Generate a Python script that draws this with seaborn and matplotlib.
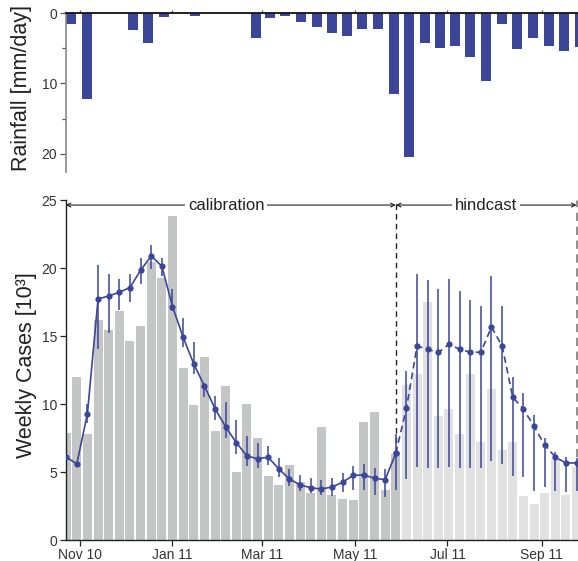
import numpy as np
import pandas as pd
import matplotlib
matplotlib.use("Agg")
import matplotlib.pyplot as plt
import matplotlib.dates as mdates
import seaborn as sns

# ---------------- data ----------------
week_start = "2010-10-23"
n_weeks = 49
calib_end = 31  # index of last calibration week

cases_obs = [7.85, 11.98, 7.78, 16.17, 15.44, 16.83, 14.63, 15.73, 20.44, 19.26,
             23.83, 12.64, 9.91, 13.45, 8.0, 11.31, 4.98, 9.99, 7.48, 4.69,
             4.02, 5.5, 4.25, 3.44, 8.32, 3.29, 2.99, 2.92, 8.66, 9.4,
             3.66, 6.31, 11.39, 12.2, 17.5, 9.1, 9.62, 7.78, 12.22, 7.2,
             11.09, 6.6, 7.2, 3.21, 2.63, 3.44, 5.99, 3.31, 5.37]

cases_model = [6.11, 5.6, 9.3, 17.74, 17.96, 18.23, 18.58, 19.85, 20.9, 20.15,
               17.18, 14.93, 12.96, 11.34, 9.67, 8.32, 7.17, 6.18, 5.99, 6.09,
               5.23, 4.49, 4.05, 3.85, 3.75, 3.9, 4.25, 4.76, 4.79, 4.54,
               4.44, 6.38, 9.69, 14.28, 14.04, 13.8, 14.4, 14.04, 13.82, 13.82,
               15.68, 14.28, 10.5, 9.64, 8.37, 6.99, 6.1, 5.67, 5.67]

model_lo = [np.nan, np.nan, 8.61, 14.09, 15.26, 16.96, 17.55, 18.85, 19.93, 19.44,
            16.83, 14.21, 12.25, 10.53, 8.83, 7.51, 6.36, 5.47, 5.28, 5.55,
            4.64, 4.0, 3.61, 3.46, 3.29, 3.24, 3.53, 3.68, 3.7, 3.31,
            3.17, 3.7, 4.52, 5.4, 5.33, 5.28, 5.4, 5.33, 5.33, 5.33,
            5.79, 5.6, 4.74, 4.6, 3.61, 3.9, 3.63, 3.5, 3.6]

model_hi = [np.nan, np.nan, 9.99, 20.22, 19.6, 19.2, 19.58, 20.74, 21.74, 20.74,
            18.48, 16.37, 14.55, 11.56, 10.6, 10.16, 8.81, 7.68, 7.12, 6.92,
            6.04, 5.25, 4.79, 4.56, 4.44, 4.54, 4.93, 5.47, 5.6, 5.28,
            5.23, 7.83, 12.42, 19.6, 19.1, 18.5, 19.19, 18.33, 17.64, 17.2,
            19.46, 17.2, 12.0, 10.85, 9.23, 7.5, 6.45, 6.1, 6.0]

# rainfall per dekad (10-day period), starting with 21-31 Oct 2010
rain_first_dekad = ("2010-10", 3)
rain_values = [1.5,                      # Oct 3
               12.2, 0.0, 0.0,           # Nov
               2.4, 4.2, 0.5,            # Dec
               0.0, 0.35, 0.0,           # Jan
               0.0, 0.0, 3.5,            # Feb
               0.65, 0.35, 1.2,          # Mar
               1.9, 2.8, 3.2,            # Apr
               2.2, 2.2, 11.5,           # May
               20.5, 4.2, 4.95,          # Jun
               4.65, 6.2, 9.6,           # Jul
               1.5, 5.05, 3.5,           # Aug
               4.65, 5.35, 4.8]          # Sep

month_ticks = ["2010-11-01", "2011-01-01", "2011-03-01",
               "2011-05-01", "2011-07-01", "2011-09-01"]
month_labels = ["Nov 10", "Jan 11", "Mar 11", "May 11", "Jul 11", "Sep 11"]

# ---------------- style ----------------
sns.set_style("ticks")
plt.rcParams["font.family"] = ["Liberation Sans", "DejaVu Sans"]
BLUE = "#3b4699"
DARK_GRAY = "#c4c5c5"
LIGHT_GRAY = "#e1e1e1"
TXT = "#222222"

W, H = 578, 561
fig = plt.figure(figsize=(W / 100, H / 100), dpi=100)


def box(l, t, r, b):
    return [l / W, 1 - b / H, (r - l) / W, (b - t) / H]


ax_r = fig.add_axes(box(65.7, 13.3, 578, 172.3))
ax = fig.add_axes(box(65.7, 200.3, 578, 540))

# ---------------- derived positions ----------------
weeks = pd.date_range(week_start, periods=n_weeks, freq="7D")
wx = mdates.date2num(weeks)
period = ["calibration" if i <= calib_end else "hindcast" for i in range(n_weeks)]
df = pd.DataFrame({"x": wx, "obs": cases_obs, "model": cases_model,
                   "lo": model_lo, "hi": model_hi, "period": period})

# dekad midpoints
y0, m0 = map(int, rain_first_dekad[0].split("-"))
d_start = []
y, m, k = y0, m0, rain_first_dekad[1]
for _ in rain_values:
    d_start.append((y, m, k))
    k += 1
    if k > 3:
        k = 1
        m += 1
        if m > 12:
            m = 1
            y += 1
rain_mid = []
for (yy, mm, kk) in d_start:
    s = pd.Timestamp(yy, mm, [1, 11, 21][kk - 1])
    if kk < 3:
        e = s + pd.Timedelta(days=10)
    else:
        e = (pd.Timestamp(yy, mm, 1) + pd.offsets.MonthBegin(1))
    rain_mid.append(mdates.date2num(s) + (mdates.date2num(e) - mdates.date2num(s)) / 2)
rdf = pd.DataFrame({"x": rain_mid, "rain": rain_values})

xlim = (wx[0] - 0.3, wx[-1] + 0.95)
px_per_day = 1.522

# ---------------- bottom panel ----------------
ax.axvline(wx[calib_end], color="#222222", lw=1.0, ls=(0, (4, 3)), zorder=0.5)
ax.axvline(wx[-1], color="#8a8a8a", lw=2.0, ls=(0, (3, 2)), zorder=0.5)

sns.barplot(data=df, x="x", y="obs", hue="period",
            palette={"calibration": DARK_GRAY, "hindcast": LIGHT_GRAY},
            native_scale=True, width=9 / 10.65, dodge=False, saturation=1,
            errorbar=None, legend=False, linewidth=0, edgecolor="none",
            ax=ax, zorder=1)

ok = df.dropna(subset=["lo", "hi"])
ax.vlines(ok["x"], ok["lo"], ok["hi"], color=BLUE, lw=1.1, zorder=3)

cal = df.iloc[:calib_end + 1]
hin = df.iloc[calib_end:]
sns.lineplot(x=cal["x"], y=cal["model"], color=BLUE, lw=1.2, marker="o",
             markersize=4.5, markeredgewidth=0, ax=ax, zorder=4)
sns.lineplot(x=hin["x"], y=hin["model"], color=BLUE, lw=1.2, marker="o",
             markersize=4.5, markeredgewidth=0, linestyle=(0, (4, 2.5)),
             ax=ax, zorder=4)

ax.set_xlim(*xlim)
ax.set_ylim(0, 25)
ax.set_yticks([0, 5, 10, 15, 20, 25])
ax.set_xticks(mdates.date2num(pd.to_datetime(month_ticks)))
ax.set_xticklabels(month_labels)
ax.set_xlabel("")
ax.set_ylabel("Weekly Cases [10³]", fontsize=15.5, color=TXT)
ax.yaxis.set_label_coords(-0.056, 0.515)
for s in ["top", "right"]:
    ax.spines[s].set_visible(False)
for s in ["left", "bottom"]:
    ax.spines[s].set_color("#222222")
    ax.spines[s].set_linewidth(1.0)
ax.tick_params(axis="both", direction="out", length=4, width=0.9,
               color="#222222", labelsize=10, labelcolor="#333333", pad=2)

# annotations
ya = 24.65
ax.annotate("", xy=(xlim[0], ya), xytext=(wx[calib_end], ya),
            arrowprops=dict(arrowstyle="<->", lw=0.8, color="#222222",
                            shrinkA=0, shrinkB=0, mutation_scale=7))
ax.annotate("", xy=(wx[calib_end], ya), xytext=(wx[-1], ya),
            arrowprops=dict(arrowstyle="<->", lw=0.8, color="#222222",
                            shrinkA=0, shrinkB=0, mutation_scale=7))
ax.text((xlim[0] + wx[calib_end]) / 2 - 3, ya, "calibration", ha="center",
        va="center", fontsize=12, color=TXT,
        bbox=dict(fc="white", ec="none", pad=2))
ax.text((wx[calib_end] + wx[-1]) / 2, ya, "hindcast", ha="center",
        va="center", fontsize=12, color=TXT,
        bbox=dict(fc="white", ec="none", pad=2))

# ---------------- rainfall panel ----------------
min_diff = np.min(np.diff(np.sort(rdf["x"].values)))
sns.barplot(data=rdf, x="x", y="rain", native_scale=True,
            width=(10 / px_per_day) / min_diff, color=BLUE, saturation=1,
            errorbar=None, linewidth=0, edgecolor="none", ax=ax_r)
ax_r.set_xlim(*xlim)
ax_r.set_ylim(22.65, 0)
ax_r.set_yticks([0, 10, 20])
ax_r.set_yticks([5, 15], minor=True)
ax_r.xaxis.tick_top()
ax_r.set_xticks(mdates.date2num(pd.to_datetime(month_ticks)))
ax_r.set_xticklabels([])
ax_r.set_xlabel("")
ax_r.set_ylabel("Rainfall [mm/day]", fontsize=15.5, color=TXT)
ax_r.yaxis.set_label_coords(-0.066, 0.53)
ax_r.spines["bottom"].set_visible(False)
ax_r.spines["right"].set_visible(False)
ax_r.spines["top"].set_color("#111111")
ax_r.spines["top"].set_linewidth(1.3)
ax_r.spines["left"].set_color("#888888")
ax_r.spines["left"].set_linewidth(1.2)
ax_r.tick_params(axis="y", which="major", direction="out", length=4,
                 width=0.9, color="#555555", labelsize=10,
                 labelcolor="#333333", pad=2)
ax_r.tick_params(axis="y", which="minor", direction="out", length=3,
                 width=0.9, color="#555555")
ax_r.tick_params(axis="x", which="major", direction="out", length=2,
                 width=0.9, color="#555555", top=True, bottom=False)

fig.savefig("out.png", dpi=100)
